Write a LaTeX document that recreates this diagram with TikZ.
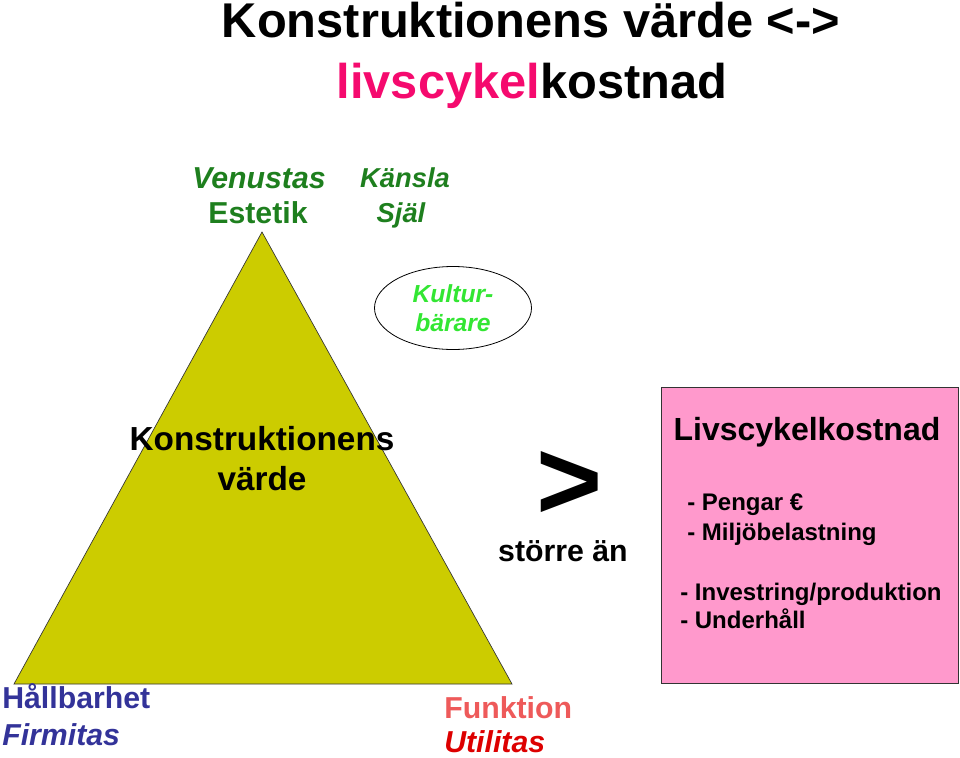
\documentclass[tikz,border=0pt]{standalone}
\usepackage{fontspec}
\setmainfont{Liberation Sans}
\usetikzlibrary{positioning}
\usetikzlibrary{shapes.geometric}
\definecolor{titlemag}{HTML}{F50A6E}
\definecolor{darkgreen}{HTML}{1E7F1E}
\definecolor{kulturgreen}{HTML}{33E633}
\definecolor{firmblue}{HTML}{333399}
\definecolor{funkred}{HTML}{EE5A5A}
\definecolor{utilred}{HTML}{DD0000}
\definecolor{pyrfill}{HTML}{CCCC00}
\definecolor{lccpink}{HTML}{FF99CC}
\tikzset{lbl/.style={inner sep=0pt, anchor=base}}
\tikzset{big/.style={font=\fontsize{36.6}{40}\selectfont\bfseries}}
\tikzset{corner/.style={lbl, font=\fontsize{22.7}{26}\selectfont\bfseries}}
\tikzset{item/.style={lbl, anchor=base west, font=\fontsize{18}{22}\selectfont\bfseries}}

\begin{document}
\begin{tikzpicture}[x=0.75pt,y=-0.75pt]
        \useasboundingbox (0,0) rectangle (960,757);

        % title
        \node[lbl, big] (title) at (531,37) {Konstruktionens värde <->};
        \node[lbl, big] (title2) at (532,98) {{\color{titlemag}livscykel}kostnad};

        % pyramid
        \coordinate (apex) at (262,232);
        \coordinate (bl) at (14,684);
        \coordinate (br) at (512,684);
        \draw[fill=pyrfill, draw=black!80, line width=0.5pt] (apex) -- (bl) -- (br) -- cycle;

        \node[corner, darkgreen] (venustas) at (259,188) {\itshape Venustas};
        \node[corner, darkgreen] (estetik) at (258,223) {Estetik};
        \node[lbl, darkgreen, font=\fontsize{20.5}{24}\selectfont\bfseries\itshape] (kansla) at (405,187) {Känsla};
        \node[lbl, darkgreen, font=\fontsize{20.5}{24}\selectfont\bfseries\itshape] (sjal) at (401,222) {Själ};

        \node[draw=black, ellipse, line width=0.6pt, minimum width=117.75pt, minimum height=62.25pt,
              inner sep=0pt, align=center, text=kulturgreen,
              font=\fontsize{18.5}{21.75}\selectfont\bfseries\itshape] (kultur) at (453,308) {Kultur-\\bärare};

        \node[lbl, font=\fontsize{25}{30}\selectfont\bfseries] (kv1) at (262,450) {Konstruktionens};
        \node[lbl, font=\fontsize{25}{30}\selectfont\bfseries] (kv2) at (262,490) {värde};

        \node[corner, firmblue, anchor=base west] (hallbar) at (2,708) {Hållbarhet};
        \node[corner, firmblue, anchor=base west] (firmitas) at (2,745) {\itshape Firmitas};
        \node[corner, funkred, anchor=base west] (funktion) at (444,718) {Funktion};
        \node[corner, utilred, anchor=base west] (utilitas) at (444,752) {\itshape Utilitas};

        % comparison
        \node[inner sep=0pt, text depth=0pt, font=\fontsize{85}{90}\selectfont\bfseries] (gt) at (570,485) {>};
        \node[corner] (storre) at (563,561) {större än};

        % life cycle cost
        \node[draw=black!80, fill=lccpink, line width=0.6pt, minimum width=222.75pt,
              minimum height=222pt, inner sep=0pt] (lcc) at (809.5,535) {};
        \node[lbl, font=\fontsize{24}{28}\selectfont\bfseries] (lcctitle) at (807,440) {Livscykelkostnad};
        \node[item] (pengar) at (687,510) {- Pengar €};
        \node[item] (miljo) at (687,540) {- Miljöbelastning};
        \node[item] (invest) at (680,600) {- Investring/produktion};
        \node[item] (underh) at (680,628) {- Underhåll};
\end{tikzpicture}
\end{document}
